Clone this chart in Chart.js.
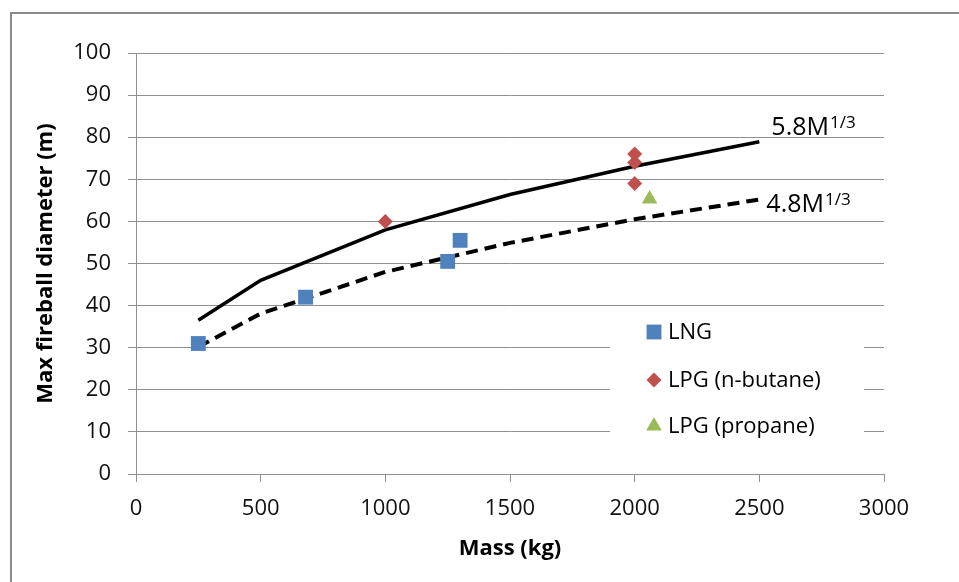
<!DOCTYPE html>
<html>
<head>
<meta charset="utf-8">
<script src="https://cdn.jsdelivr.net/npm/chart.js@4/dist/chart.umd.min.js"></script>
<style>
  html, body { margin: 0; padding: 0; background: #fff; overflow: hidden; }
  #wrap { width: 959px; height: 582px; position: relative; }
</style>
</head>
<body>
<div id="wrap"><canvas id="fireballChart"></canvas></div>
<script>
// measured fireballs
var lngMass = [250, 680, 1250, 1300];
var lngDiameter = [31, 42, 50.5, 55.5];
var butaneMass = [1000, 2000, 2000, 2000];
var butaneDiameter = [60, 76, 74, 69];
var propaneMass = [2060];
var propaneDiameter = [65.3];

// correlation curves D = k * M^(1/3)
var curveMass = [250, 500, 1000, 1500, 2000, 2500];
var curve58 = [36.5, 46.0, 58.0, 66.4, 73.1, 78.9];
var curve48 = [30.2, 38.1, 48.0, 54.9, 60.5, 65.2];
var curveLabels = ['5.8M', '4.8M'];
var curveExponent = '1/3';

var seriesNames = ['LNG', 'LPG (n-butane)', 'LPG (propane)'];
var xTicks = [0, 500, 1000, 1500, 2000, 2500, 3000];
var yTicks = [0, 10, 20, 30, 40, 50, 60, 70, 80, 90, 100];

function pts(xs, ys) {
    return xs.map(function (x, i) { return { x: x, y: ys[i] }; });
}

var FONT = '"Open Sans", sans-serif';
var GRID = '#8f8f8f';

// outer frame (top and left edges only)
var framePlugin = {
    id: 'frame',
    beforeDraw: function (chart) {
        var ctx = chart.ctx;
        ctx.save();
        ctx.fillStyle = '#fff';
        ctx.fillRect(0, 0, chart.width, chart.height);
        ctx.strokeStyle = '#8a8a8a';
        ctx.lineWidth = 2;
        ctx.beginPath();
        ctx.moveTo(11, chart.height);
        ctx.lineTo(11, 13);
        ctx.lineTo(chart.width, 13);
        ctx.stroke();
        ctx.restore();
    }
};

// "5.8M^1/3" style labels at the end of each curve
var curveLabelPlugin = {
    id: 'curveLabels',
    afterDatasetsDraw: function (chart) {
        var ctx = chart.ctx;
        var offsets = [{ dx: 12, dy: -6.5 }, { dx: 7, dy: 12.5 }];
        ctx.save();
        ctx.fillStyle = '#000';
        ctx.textBaseline = 'alphabetic';
        ctx.textAlign = 'left';
        chart.data.datasets.forEach(function (ds, i) {
            if (ds.curveIndex === undefined) return;
            var meta = chart.getDatasetMeta(i);
            var end = meta.data[meta.data.length - 1];
            var off = offsets[ds.curveIndex];
            var x = end.x + off.dx;
            var y = end.y + off.dy;
            ctx.font = '25px ' + FONT;
            var text = curveLabels[ds.curveIndex];
            ctx.fillText(text, x, y);
            var w = ctx.measureText(text).width;
            ctx.font = '17px ' + FONT;
            ctx.fillText(curveExponent, x + w + 1, y - 7);
        });
        ctx.restore();
    }
};

// boxed legend sitting inside the plot area
var boxLegendPlugin = {
    id: 'boxLegend',
    afterDatasetsDraw: function (chart) {
        var ctx = chart.ctx;
        var box = { x: 610, y: 312, w: 254, h: 140 };
        var rows = [332, 380, 426];
        ctx.save();
        ctx.fillStyle = '#fff';
        ctx.fillRect(box.x, box.y, box.w, box.h);
        ctx.font = '22px ' + FONT;
        ctx.textBaseline = 'middle';
        ctx.textAlign = 'left';
        chart.data.datasets.forEach(function (ds, i) {
            if (ds.curveIndex !== undefined) return;
            ctx.fillStyle = ds.backgroundColor;
            Chart.helpers.drawPoint(ctx, {
                pointStyle: ds.pointStyle,
                radius: ds.pointRadius,
                rotation: 0,
                borderWidth: 0
            }, 654, rows[i]);
            ctx.fillStyle = '#000';
            ctx.fillText(ds.label, 668, rows[i] + 1);
        });
        ctx.restore();
    }
};

var ctx = document.getElementById('fireballChart').getContext('2d');
new Chart(ctx, {
    type: 'scatter',
    data: {
        datasets: [
            {
                label: seriesNames[0],
                data: pts(lngMass, lngDiameter),
                pointStyle: 'rect',
                pointRadius: 10.5,
                backgroundColor: '#4F81BD',
                borderColor: '#4F81BD',
                pointBorderWidth: 0
            },
            {
                label: seriesNames[1],
                data: pts(butaneMass, butaneDiameter),
                pointStyle: 'rectRot',
                pointRadius: 7.5,
                backgroundColor: '#C0504D',
                borderColor: '#C0504D',
                pointBorderWidth: 0
            },
            {
                label: seriesNames[2],
                data: pts(propaneMass, propaneDiameter),
                pointStyle: 'triangle',
                pointRadius: 9,
                backgroundColor: '#9BBB59',
                borderColor: '#9BBB59',
                pointBorderWidth: 0
            },
            {
                label: '5.8M^1/3',
                curveIndex: 0,
                data: pts(curveMass, curve58),
                showLine: true,
                borderColor: '#000',
                borderWidth: 3.5,
                pointRadius: 0,
                tension: 0
            },
            {
                label: '4.8M^1/3',
                curveIndex: 1,
                data: pts(curveMass, curve48),
                showLine: true,
                borderColor: '#000',
                borderWidth: 4,
                borderDash: [12, 7],
                pointRadius: 0,
                tension: 0
            }
        ]
    },
    options: {
        responsive: true,
        maintainAspectRatio: false,
        animation: false,
        layout: { padding: { left: 0, top: 53, right: 75, bottom: 0 } },
        plugins: {
            legend: { display: false },
            tooltip: { enabled: false }
        },
        scales: {
            x: {
                type: 'linear',
                min: 0,
                max: 3000,
                afterBuildTicks: function (scale) {
                    scale.ticks = xTicks.map(function (v) { return { value: v }; });
                },
                afterFit: function (scale) { scale.height = 108; },
                grid: {
                    drawOnChartArea: false,
                    drawTicks: true,
                    tickLength: 8,
                    color: GRID
                },
                border: { display: true, color: GRID, width: 1 },
                ticks: {
                    padding: 14,
                    color: '#111',
                    font: { family: FONT, size: 22 },
                    maxRotation: 0,
                    callback: function (v) { return String(v); }
                },
                title: {
                    display: true,
                    text: 'Mass (kg)',
                    color: '#000',
                    font: { family: FONT, size: 22, weight: 'bold' },
                    padding: { top: 0, bottom: 20 }
                }
            },
            y: {
                type: 'linear',
                min: 0,
                max: 100,
                afterBuildTicks: function (scale) {
                    scale.ticks = yTicks.map(function (v) { return { value: v }; });
                },
                afterFit: function (scale) { scale.width = 136; },
                grid: {
                    drawTicks: true,
                    tickLength: 8,
                    color: GRID
                },
                border: { display: true, color: GRID, width: 1 },
                ticks: {
                    padding: 17,
                    color: '#111',
                    font: { family: FONT, size: 22 },
                    callback: function (v) { return String(v); }
                },
                title: {
                    display: true,
                    text: 'Max fireball diameter (m)',
                    color: '#000',
                    font: { family: FONT, size: 22, weight: 'bold' },
                    padding: { top: 33, bottom: 0 }
                }
            }
        }
    },
    plugins: [framePlugin, curveLabelPlugin, boxLegendPlugin]
});
</script>
</body>
</html>
